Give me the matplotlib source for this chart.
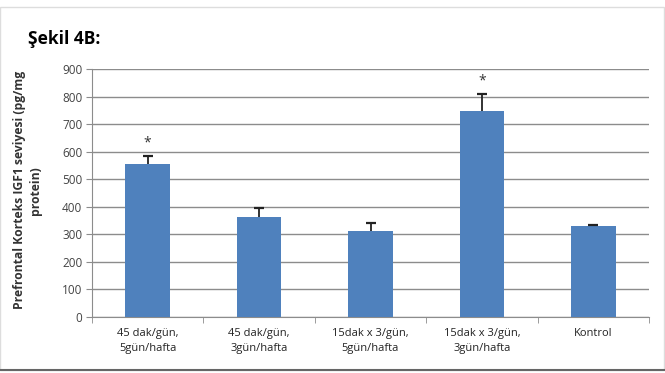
import matplotlib.pyplot as plt
from matplotlib.patches import Rectangle
import numpy as np

# data
categories = ["45 dak/gün,\n5gün/hafta", "45 dak/gün,\n3gün/hafta",
              "15dak x 3/gün,\n5gün/hafta", "15dak x 3/gün,\n3gün/hafta", "Kontrol"]
means = [556, 363, 311, 748, 329]
errors = [30, 32, 32, 63, 5]
significant = [True, False, False, True, False]
yticks = [0, 100, 200, 300, 400, 500, 600, 700, 800, 900]

plt.rcParams['font.family'] = ['Open Sans', 'DejaVu Sans']

fig = plt.figure(figsize=(6.65, 3.73), dpi=100)
ax = fig.add_axes([0.1383, 0.150, 0.8377, 0.665])

x = np.arange(len(categories))
means = np.array(means)
errors = np.array(errors)
ax.bar(x, means, width=0.4, color='#4F81BD', zorder=3)
# upper-only error bars (no cap at the bar top)
ax.vlines(x, means, means + errors, color='#222222', linewidth=1.3, zorder=4)
ax.plot(x, means + errors, linestyle='none', marker='_', markersize=7,
        markeredgewidth=1.6, color='#222222', zorder=4)
for xi, m, e, s in zip(x, means, errors, significant):
    if s:
        ax.text(xi, m + e + 47, '*', ha='center', va='center', fontsize=10, color='#333333')

ax.set_xlim(-0.5, len(categories) - 0.5)
ax.set_ylim(0, 900)
ax.set_yticks(yticks)
ax.set_yticklabels([str(t) for t in yticks], fontsize=8.5, color='#444444')
ax.yaxis.grid(True, color='#8c8c8c', linewidth=1.0, zorder=0)
ax.set_axisbelow(True)

ax.set_xticks(x)
ax.set_xticklabels(categories, fontsize=8, color='#222222', linespacing=1.5)
ax.set_xticks(np.arange(-0.5, len(categories)), minor=True)
ax.tick_params(axis='x', which='major', length=0, pad=8)
ax.tick_params(axis='x', which='minor', length=4, color='#8c8c8c')
ax.tick_params(axis='y', length=4, color='#8c8c8c', pad=3)

for side in ['top', 'right']:
    ax.spines[side].set_visible(False)
ax.spines['left'].set_color('#8c8c8c')
ax.spines['bottom'].set_color('#8c8c8c')

fig.text(0.042, 0.49, "Prefrontal Korteks IGF1 seviyesi (pg/mg\nprotein)",
         rotation=90, ha='center', va='center', fontsize=8.7, fontweight='bold',
         color='#333333', multialignment='center', linespacing=1.3)
fig.text(0.042, 0.895, "Şekil 4B:", fontsize=12.5, fontweight='bold', ha='left', va='center')

# outer frame of the chart object
fig.patches.append(Rectangle((0.0, 0.008), 0.998, 0.973, transform=fig.transFigure,
                             fill=False, edgecolor='#dddddd', linewidth=1.0))
fig.lines.append(plt.Line2D([0, 1], [0.008, 0.008], transform=fig.transFigure,
                            color='#666666', linewidth=1.5))

fig.savefig('out.png', dpi=100)
